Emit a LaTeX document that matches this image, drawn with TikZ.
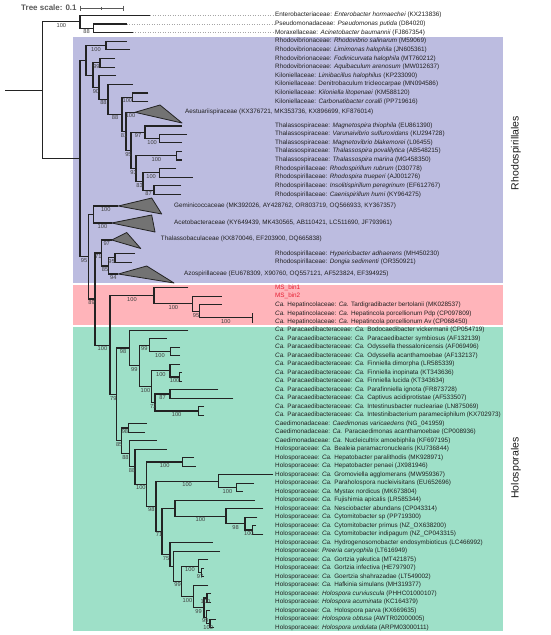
\documentclass[tikz,border=0pt]{standalone}
\usepackage{fontspec}
\setmainfont{Liberation Sans}
\usetikzlibrary{calc}
\definecolor{rhodo}{RGB}{188,188,224}
\definecolor{hepa}{RGB}{255,180,186}
\definecolor{holo}{RGB}{158,224,200}
\definecolor{msred}{RGB}{230,30,50}
\definecolor{brc}{RGB}{35,35,35}
\newcommand{\lf}[4]{\coordinate (#1) at (#2,#3); \node[leaf] (#1-l) at (275,#3) {#4};}
\newcommand{\nd}[3]{\coordinate (#1) at (#2,#3);}
\newcommand{\br}[2]{\draw[br] (#2) -| (#1);}
\newcommand{\bs}[3]{\node[boot] at ($(#1 |- #2)!0.5!(#2)$) {#3};}
\newcommand{\Cand}{\textit{Ca.}}
\tikzset{
 leaf/.style={anchor=west, inner sep=0pt, font=\fontsize{6.35}{7}\selectfont, text=black!88},
 boot/.style={inner sep=0pt, font=\fontsize{5.7}{6}\selectfont, text=black!75, yshift=-3.7pt},
 br/.style={draw=brc, line width=1.1pt},
 tri/.style={draw=brc, fill=black!55, line width=0.8pt, line join=round},
 side/.style={rotate=90, font=\fontsize{10.5}{12}\selectfont, text=black!90},
 lead/.style={draw=black!35, dotted, line width=0.5pt},
}
\begin{document}
\begin{tikzpicture}[x=1pt,y=-1pt]
\useasboundingbox (0,0) rectangle (550,635);
% backgrounds
\fill[rhodo] (73.3,37.3) rectangle (503.3,283.3);
\fill[hepa] (73.3,285.3) rectangle (503.3,325.3);
\fill[holo] (73.3,327.3) rectangle (503.3,630.7);
\node[side] (rlab) at (516,153) {Rhodospirillales};
\node[side] (hlab) at (516,468) {Holosporales};
% scale
\node[anchor=west, inner sep=0pt, font=\bfseries\fontsize{8}{9}\selectfont, text=black!65] (ts) at (21,8) {Tree scale: 0.1};
\coordinate (sb1) at (80,8); \coordinate (sb2) at (123,8); \coordinate (sbm) at (101.5,8);
\draw[black!65, line width=0.6pt] (sb1) -- (sb2);
\draw[black!65, line width=0.6pt] ($(sb1)+(0,-2.5)$) -- ($(sb1)+(0,2.5)$);
\draw[black!65, line width=0.6pt] ($(sb2)+(0,-2.5)$) -- ($(sb2)+(0,2.5)$);
\draw[black!65, line width=0.6pt] ($(sbm)+(0,-1.5)$) -- ($(sbm)+(0,1.5)$);
% ---------- leaves
\lf{Ent}{150}{15.3}{Enterobacteriaceae: \textit{Enterobacter hormaechei} (KX213836)}
\lf{Pse}{126.7}{24.0}{Pseudomonadaceae: \textit{Pseudomonas putida} (D84020)}
\lf{Mor}{132.7}{32.6}{Moraxellaceae: \textit{Acinetobacter baumannii} (FJ867354)}
\lf{Rsa}{126.7}{41.2}{Rhodovibrionaceae: \textit{Rhodovibrio salinarum} (M59069)}
\lf{Lim}{130}{49.8}{Rhodovibrionaceae: \textit{Limimonas halophila} (JN605361)}
\lf{Fod}{115}{58.5}{Rhodovibrionaceae: \textit{Fodinicurvata halophila} (MT760212)}
\lf{Aqu}{115}{67.1}{Rhodovibrionaceae: \textit{Aquibaculum arenosum} (MW012637)}
\lf{Lmb}{116}{75.7}{Kiloniellaceae: \textit{Limibacillus halophilus} (KP233090)}
\lf{Den}{133}{84.3}{Kiloniellaceae: Denitrobaculum tricleocarpae (MN094586)}
\lf{Kil}{148.3}{93.0}{Kiloniellaceae: \textit{Kiloniella litopenaei} (KM588120)}
\lf{Car}{148.3}{101.6}{Kiloniellaceae: \textit{Carbonatibacter coralli} (PP719616)}
\lf{Mgs}{182}{126.0}{Thalassospiraceae: \textit{Magnetospira thiophila} (EU861390)}
\lf{Var}{187}{134.3}{Thalassospiraceae: \textit{Varunaivibrio sulfuroxidans} (KU294728)}
\lf{Mgv}{182}{142.7}{Thalassospiraceae: \textit{Magnetovibrio blakemorei} (L06455)}
\lf{Tpo}{181.7}{151.3}{Thalassospiraceae: \textit{Thalassospira povalilytica} (AB548215)}
\lf{Tma}{181.7}{160.0}{Thalassospiraceae: \textit{Thalassospira marina} (MG458350)}
\lf{Rru}{176}{168.5}{Rhodospirillaceae: \textit{Rhodospirillum rubrum} (D30778)}
\lf{Rtr}{192.7}{177.2}{Rhodospirillaceae: \textit{Rhodospira trueperi} (AJ001276)}
\lf{Ins}{181}{185.8}{Rhodospirillaceae: \textit{Insolitispirillum peregrinum} (EF612767)}
\lf{Cae}{181}{194.4}{Rhodospirillaceae: \textit{Caenispirillum humi} (KY964275)}
\lf{Hyp}{135}{253.5}{Rhodospirillaceae: \textit{Hypericibacter adhaerens} (MH450230)}
\lf{Don}{131.7}{262.3}{Rhodospirillaceae: \textit{Dongia sedimenti} (OR350921)}
\lf{MS1}{188.3}{287.7}{\textcolor{msred}{MS\_bin1}}
\lf{MS2}{221.7}{296.3}{\textcolor{msred}{MS\_bin2}}
\lf{Tar}{221.7}{304.9}{\Cand{} Hepatincolaceae: \Cand{} Tardigradibacter bertolanii (MK028537)}
\lf{Pdp}{253.3}{313.5}{\Cand{} Hepatincolaceae: \Cand{} Hepatincola porcellionum Pdp (CP097809)}
\lf{Av}{253.3}{322.1}{\Cand{} Hepatincolaceae: \Cand{} Hepatincola porcellionum Av (CP068450)}
\lf{Bod}{188.3}{330.2}{\Cand{} Paracaedibacteraceae: \Cand{} Bodocaedibacter vickermanii (CP054719)}
\lf{Psy}{166.7}{338.7}{\Cand{} Paracaedibacteraceae: \Cand{} Paracaedibacter symbiosus (AF132139)}
\lf{Oth}{180}{347.2}{\Cand{} Paracaedibacteraceae: \Cand{} Odyssella thessalonicensis (AF069496)}
\lf{Oac}{180}{355.7}{\Cand{} Paracaedibacteraceae: \Cand{} Odyssella acanthamoebae (AF132137)}
\lf{Fdi}{180}{364.2}{\Cand{} Paracaedibacteraceae: \Cand{} Finniella dimorpha (LR585339)}
\lf{Fin}{181.7}{372.7}{\Cand{} Paracaedibacteraceae: \Cand{} Finniella inopinata (KT343636)}
\lf{Flu}{181.7}{381.2}{\Cand{} Paracaedibacteraceae: \Cand{} Finniella lucida (KT343634)}
\lf{Paf}{218.3}{389.7}{\Cand{} Paracaedibacteraceae: \Cand{} Parafinniella ignota (FR873728)}
\lf{Cap}{233.3}{398.2}{\Cand{} Paracaedibacteraceae: \Cand{} Captivus acidiprotistae (AF533507)}
\lf{Inu}{204}{406.7}{\Cand{} Paracaedibacteraceae: \Cand{} Intestinusbacter nucleariae (LN875069)}
\lf{Inp}{204}{415.2}{\Cand{} Paracaedibacteraceae: \Cand{} Intestinibacterium parameciiphilum (KX702973)}
\lf{Cva}{146.7}{423.7}{Caedimonadaceae: \textit{Caedimonas varicaedens} (NG\_041959)}
\lf{Pac}{145}{432.2}{Caedimonadaceae: \Cand{} Paracaedimonas acanthamoebae (CP008936)}
\lf{Nuc}{156.7}{440.7}{Caedimonadaceae: \Cand{} Nucleicultrix amoebiphila (KF697195)}
\lf{Bea}{166.7}{449.2}{Holosporaceae: \Cand{} Bealeia paramacronuclearis (KU736844)}
\lf{Hpa}{194}{457.7}{Holosporaceae: \Cand{} Hepatobacter paralithodis (MK928971)}
\lf{Hpe}{195.7}{466.2}{Holosporaceae: \Cand{} Hepatobacter penaei (JX981946)}
\lf{Gro}{273.3}{474.7}{Holosporaceae: \Cand{} Gromoviella agglomerans (MW959367)}
\lf{Pah}{254}{483.2}{Holosporaceae: \Cand{} Paraholospora nucleivisitans (EU652696)}
\lf{Mys}{242.7}{491.7}{Holosporaceae: \Cand{} Mystax nordicus (MK673804)}
\lf{Fuj}{255}{500.2}{Holosporaceae: \Cand{} Fujishimia apicalis (LR585344)}
\lf{Nes}{263.3}{508.7}{Holosporaceae: \Cand{} Nesciobacter abundans (CP043314)}
\lf{Csp}{257.3}{517.2}{Holosporaceae: \Cand{} Cytomitobacter sp (PP719300)}
\lf{Cpr}{256}{525.7}{Holosporaceae: \Cand{} Cytomitobacter primus (NZ\_OX638200)}
\lf{Cin}{263.3}{534.2}{Holosporaceae: \Cand{} Cytomitobacter indipagum (NZ\_CP043315)}
\lf{Hyd}{212.7}{542.7}{Holosporaceae: \Cand{} Hydrogenosomobacter endosymbioticus (LC466992)}
\lf{Pre}{220}{551.2}{Holosporaceae: \textit{Preeria caryophila} (LT616949)}
\lf{Gya}{208.3}{559.7}{Holosporaceae: \Cand{} Gortzia yakutica (MT421875)}
\lf{Gin}{204}{568.2}{Holosporaceae: \Cand{} Gortzia infectiva (HE797907)}
\lf{Gsh}{204}{576.7}{Holosporaceae: \Cand{} Goertzia shahrazadae (LT549002)}
\lf{Haf}{208.3}{585.2}{Holosporaceae: \Cand{} Hafkinia simulans (MH319377)}
\lf{Hcu}{211}{593.7}{Holosporaceae: \textit{Holospora curviuscula} (PHHC01000107)}
\lf{Hac}{211}{602.2}{Holosporaceae: \textit{Holospora acuminata} (KC164379)}
\lf{Hpv}{210}{610.7}{Holosporaceae: \Cand{} Holospora parva (KX669635)}
\lf{Hob}{216}{619.2}{Holosporaceae: \textit{Holospora obtusa} (AWTR02000005)}
\lf{Hun}{214}{627.7}{Holosporaceae: \textit{Holospora undulata} (ARPM03000111)}
\draw[lead] (Ent) -- (Ent-l.west);
\draw[lead] (Pse) -- (Pse-l.west);
\draw[lead] (Mor) -- (Mor-l.west);
% ---------- collapsed clades
\nd{AesA}{135}{112.3}
\draw[tri] (AesA) -- (160,105) -- (182,123) -- cycle;
\node[leaf] (Aes-l) at (185,112.3) {Aestuariispiraceae (KX376721, MK353736, KX896699, KF876014)};
\nd{GemA}{118.3}{206}
\draw[tri] (GemA) -- (151.7,198) -- (161.7,214) -- cycle;
\node[leaf] (Gem-l) at (174,206) {Geminicoccaceae (MK392026, AY428762, OR803719, OQ566933, KY367357)};
\nd{AceA}{111.7}{223}
\draw[tri] (AceA) -- (151.7,215) -- (155,232) -- cycle;
\node[leaf] (Ace-l) at (174,223) {Acetobacteraceae (KY649439, MK430565, AB110421, LC511690, JF793961)};
\nd{ThaA}{111.7}{240}
\draw[tri] (ThaA) -- (126.7,232.5) -- (140.7,248.5) -- cycle;
\node[leaf] (Tha-l) at (160.7,239) {Thalassobaculaceae (KX870046, EF203900, DQ665838)};
\nd{AzoA}{118.3}{274}
\draw[tri] (AzoA) -- (146.7,266) -- (174,283) -- cycle;
\node[leaf] (Azo-l) at (184,274) {Azospirillaceae (EU678309, X90760, OQ557121, AF523824, EF394925)};
% ---------- internal nodes
\nd{RT}{42.7}{90.17} \coordinate (rs) at (5,90.17);
\nd{O1}{80}{21.8} \nd{O2}{93.3}{28.3}
\nd{N0}{80}{158.53}
\nd{A}{86}{60.3} \nd{RL}{106}{45.5} \nd{P1}{93}{75.15} \nd{FA}{100}{62.8}
\nd{P2}{99}{87.5} \nd{P3}{108}{99.3} \nd{P4}{122}{114.3} \nd{KC}{132.7}{97.3}
\nd{AR}{126}{131.35} \nd{TR}{131}{150.4} \nd{MV}{145}{132.25} \nd{VM}{159.3}{138.5}
\nd{NT}{136}{168.6} \nd{TT}{176.7}{155.65} \nd{NE}{143}{181.5} \nd{RR}{159.3}{172.85} \nd{IC}{154}{190.1}
\nd{B}{88.3}{256.77} \nd{GA}{93.3}{214.5} \nd{C}{95}{299.03}
\nd{N71}{101.7}{252.98} \nd{N85}{108.3}{265.95} \nd{HD}{115}{257.9}
\nd{HH}{110}{345.08} \nd{Hep}{154}{295.76} \nd{M2}{192.7}{303.83} \nd{T}{199.3}{311.35} \nd{PA}{252.3}{317.8}
\nd{Holo}{116.7}{394.4} \nd{P}{129.3}{348.0} \nd{P2h}{139.3}{365.8} \nd{PO}{149.3}{345.08} \nd{OA}{170.7}{351.45}
\nd{FF}{151.7}{386.51} \nd{F}{170}{370.58} \nd{IL}{179.3}{376.95} \nd{G}{155}{402.45} \nd{PC}{170}{393.95} \nd{II}{198.3}{410.95}
\nd{Q}{121.7}{440.81} \nd{CP}{128.3}{427.95} \nd{Q2}{129.3}{453.67} \nd{Q3}{135}{466.64} \nd{Q4}{146.7}{484.08}
\nd{HP}{182.7}{461.95} \nd{Q5}{156}{506.2} \nd{GPM}{218.3}{481.08} \nd{PM}{236.7}{487.45}
\nd{RH}{162}{531.31} \nd{FN}{175}{508.17} \nd{NC}{226}{516.14} \nd{C3}{245}{523.58} \nd{PI}{252.7}{529.95}
\nd{Y1}{170}{554.46} \nd{Y2}{173.3}{566.21} \nd{GYH}{181.7}{581.22} \nd{GY}{198.3}{566.08} \nd{GIS}{201.7}{572.45}
\nd{HH2}{193.3}{596.36} \nd{Hol}{204}{607.51} \nd{CA}{207}{597.95} \nd{PO2}{206.5}{617.08} \nd{OU}{210}{623.45}
% ---------- branches
\draw[br] (rs) -- (RT);
\br{RT}{O1}\br{RT}{N0}
\br{O1}{Ent}\br{O1}{O2}\br{O2}{Pse}\br{O2}{Mor}
\br{N0}{A}\br{N0}{B}
\br{A}{RL}\br{A}{P1}\br{RL}{Rsa}\br{RL}{Lim}
\br{P1}{FA}\br{P1}{P2}\br{FA}{Fod}\br{FA}{Aqu}
\br{P2}{Lmb}\br{P2}{P3}\br{P3}{Den}\br{P3}{P4}
\br{P4}{KC}\br{P4}{AR}\br{KC}{Kil}\br{KC}{Car}
\br{AR}{AesA}\br{AR}{TR}\br{TR}{MV}\br{TR}{NT}
\br{MV}{Mgs}\br{MV}{VM}\br{VM}{Var}\br{VM}{Mgv}
\br{NT}{TT}\br{NT}{NE}\br{TT}{Tpo}\br{TT}{Tma}
\br{NE}{RR}\br{NE}{IC}\br{RR}{Rru}\br{RR}{Rtr}\br{IC}{Ins}\br{IC}{Cae}
\br{B}{GA}\br{B}{C}\br{GA}{GemA}\br{GA}{AceA}
\br{C}{N71}\br{C}{HH}\br{N71}{ThaA}\br{N71}{N85}\br{N85}{HD}\br{N85}{AzoA}\br{HD}{Hyp}\br{HD}{Don}
\br{HH}{Hep}\br{HH}{Holo}\br{Hep}{MS1}\br{Hep}{M2}\br{M2}{MS2}\br{M2}{T}\br{T}{Tar}\br{T}{PA}\br{PA}{Pdp}\br{PA}{Av}
\br{Holo}{P}\br{Holo}{Q}\br{P}{Bod}\br{P}{P2h}\br{P2h}{PO}\br{P2h}{FF}\br{PO}{Psy}\br{PO}{OA}\br{OA}{Oth}\br{OA}{Oac}
\br{FF}{F}\br{FF}{G}\br{F}{Fdi}\br{F}{IL}\br{IL}{Fin}\br{IL}{Flu}\br{G}{PC}\br{G}{II}\br{PC}{Paf}\br{PC}{Cap}\br{II}{Inu}\br{II}{Inp}
\br{Q}{CP}\br{Q}{Q2}\br{CP}{Cva}\br{CP}{Pac}\br{Q2}{Nuc}\br{Q2}{Q3}\br{Q3}{Bea}\br{Q3}{Q4}\br{Q4}{HP}\br{Q4}{Q5}\br{HP}{Hpa}\br{HP}{Hpe}
\br{Q5}{GPM}\br{Q5}{RH}\br{GPM}{Gro}\br{GPM}{PM}\br{PM}{Pah}\br{PM}{Mys}
\br{RH}{FN}\br{RH}{Y1}\br{FN}{Fuj}\br{FN}{NC}\br{NC}{Nes}\br{NC}{C3}\br{C3}{Csp}\br{C3}{PI}\br{PI}{Cpr}\br{PI}{Cin}
\br{Y1}{Hyd}\br{Y1}{Y2}\br{Y2}{Pre}\br{Y2}{GYH}\br{GYH}{GY}\br{GYH}{HH2}\br{GY}{Gya}\br{GY}{GIS}\br{GIS}{Gin}\br{GIS}{Gsh}
\br{HH2}{Haf}\br{HH2}{Hol}\br{Hol}{CA}\br{Hol}{PO2}\br{CA}{Hcu}\br{CA}{Hac}\br{PO2}{Hpv}\br{PO2}{OU}\br{OU}{Hob}\br{OU}{Hun}
% ---------- support values
\bs{RT}{O1}{100}\bs{O1}{O2}{88}
\bs{A}{RL}{100}\bs{P1}{FA}{99}\bs{P1}{P2}{90}\bs{P2}{P3}{88}\bs{P3}{P4}{88}\bs{P4}{KC}{100}\bs{P4}{AR}{81}
\bs{AR}{AesA}{100}\bs{AR}{TR}{95}\bs{TR}{MV}{97}\bs{MV}{VM}{100}\bs{TR}{NT}{93}\bs{NT}{TT}{100}\bs{NT}{NE}{83}\bs{NE}{RR}{100}\bs{NE}{IC}{87}
\bs{GA}{GemA}{100}\bs{GA}{AceA}{100}\bs{N71}{ThaA}{97}\bs{C}{N71}{71}\bs{N71}{N85}{85}\bs{N85}{HD}{95}\bs{N85}{AzoA}{94}\bs{N0}{B}{95}\bs{B}{C}{89}\bs{C}{HH}{100}
\bs{HH}{Hep}{100}\bs{Hep}{M2}{100}\bs{M2}{T}{95}\bs{T}{PA}{100}
\bs{HH}{Holo}{79}\bs{Holo}{P}{98}\bs{P2h}{PO}{99}\bs{PO}{OA}{100}\bs{P}{P2h}{99}\bs{FF}{F}{100}\bs{F}{IL}{100}\bs{P2h}{FF}{100}\bs{G}{PC}{87}\bs{FF}{G}{72}\bs{G}{II}{100}
\bs{Holo}{Q}{85}\bs{Q}{CP}{98}\bs{Q}{Q2}{88}\bs{Q2}{Q3}{88}\bs{Q3}{Q4}{100}\bs{Q4}{HP}{100}\bs{Q4}{Q5}{98}\bs{Q5}{GPM}{100}\bs{GPM}{PM}{100}
\bs{Q5}{RH}{71}\bs{FN}{NC}{100}\bs{NC}{C3}{98}\bs{C3}{PI}{100}\bs{RH}{Y1}{75}\bs{GYH}{GY}{100}\bs{GY}{GIS}{97}\bs{Y2}{GYH}{99}\bs{GYH}{HH2}{100}
\bs{HH2}{Hol}{99}\bs{Hol}{CA}{100}\bs{Hol}{PO2}{99}\bs{PO2}{OU}{100}
\end{tikzpicture}
\end{document}
